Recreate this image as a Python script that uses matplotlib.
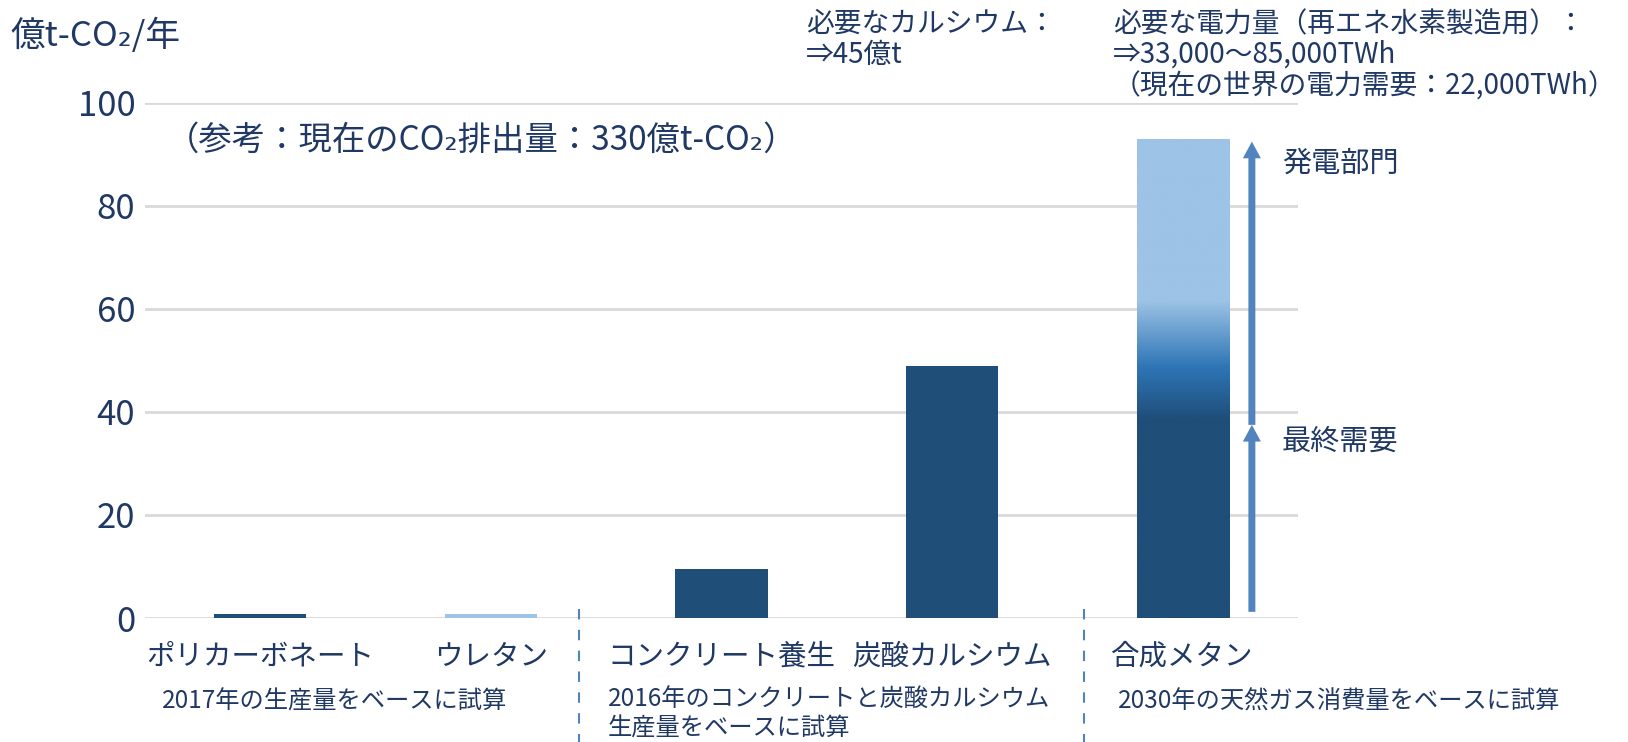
import numpy as np
import matplotlib.pyplot as plt
from matplotlib.colors import LinearSegmentedColormap
from matplotlib.transforms import blended_transform_factory

plt.rcParams['font.family'] = ['Noto Sans CJK JP', 'DejaVu Sans']

# data
categories = ['ポリカーボネート', 'ウレタン', 'コンクリート養生', '炭酸カルシウム', '合成メタン']
values = [0.8, 0.8, 9.5, 49.0, 93.0]
bar_colors = ['#1F4E79', '#9DC3E6', '#1F4E79', '#1F4E79', 'none']
final_demand = 37.5      # split of the methane bar (最終需要 / 発電部門)
methane_top = 92.5
separators = [1.38, 3.57]
notes = ['2017年の生産量をベースに試算',
         '2016年のコンクリートと炭酸カルシウム\n生産量をベースに試算',
         '2030年の天然ガス消費量をベースに試算']

navy = '#1F3864'
arrow_c = '#5183BF'

W, H = 1628, 742
fig = plt.figure(figsize=(W / 100, H / 100), dpi=100)
ax = fig.add_axes([145 / W, 1 - 618 / H, (1298 - 145) / W, (618 - 103) / H])

x = np.arange(len(categories))
bars = ax.bar(x, values, width=0.4, color=bar_colors, zorder=2)

# gradient fill for the methane bar
stops = [(0, '#1F4E79'), (38.4 / 93, '#1F4E79'), (48.7 / 93, '#2E75B6'),
         (61.7 / 93, '#9DC3E6'), (1, '#9DC3E6')]
cmap = LinearSegmentedColormap.from_list('grad', stops)
grad = np.linspace(0, 1, 512).reshape(-1, 1)
im = ax.imshow(grad, cmap=cmap, origin='lower', aspect='auto',
               extent=[x[4] - 0.2, x[4] + 0.2, 0, values[4]], zorder=2)
im.set_clip_path(bars[4])

ax.set_xlim(-0.5, 4.5)
ax.set_ylim(0, 100)
ax.set_yticks(range(0, 101, 20))
ax.grid(axis='y', color='#D9D9D9', lw=2)
ax.set_axisbelow(True)
for s in ax.spines.values():
    s.set_visible(False)
ax.tick_params(axis='y', length=0, pad=7, labelsize=25, labelcolor=navy)
ax.set_xticks(x)
ax.set_xticklabels(categories, fontsize=20.5, color=navy)
ax.tick_params(axis='x', length=0, pad=17)

# arrows
ax.annotate('', xy=(4.3, final_demand), xytext=(4.3, 1.2),
            arrowprops=dict(width=5, headwidth=13, headlength=12, shrink=0,
                            color=arrow_c, lw=0))
ax.annotate('', xy=(4.3, methane_top), xytext=(4.3, final_demand),
            arrowprops=dict(width=5, headwidth=13, headlength=12, shrink=0,
                            color=arrow_c, lw=0))
ax.text(4.43, 88.3, '発電部門', fontsize=21, color=navy, va='center')
ax.text(4.43, 34.2, '最終需要', fontsize=21, color=navy, va='center')

ax.text(-0.41, 92.8, '（参考：現在のCO₂排出量：330億t-CO₂）', fontsize=24,
        color=navy, va='center')

# dashed separators below the axis
trans = blended_transform_factory(ax.transData, ax.transAxes)
for sx in separators:
    ax.plot([sx, sx], [0.018, -0.26], transform=trans, clip_on=False,
            ls=(0, (5, 5)), color=arrow_c, lw=1.5)

# notes under the categories
fig.text(335 / W, 1 - 702 / H, notes[0], fontsize=17.5, color=navy,
         ha='center', va='center')
fig.text(608 / W, 1 - 686 / H, notes[1], fontsize=17.5, color=navy,
         ha='left', va='top', linespacing=1.2)
fig.text(1118 / W, 1 - 702 / H, notes[2], fontsize=17.5, color=navy,
         ha='left', va='center')

# header texts
fig.text(10 / W, 1 - 36 / H, '億t-CO₂/年', fontsize=25, color=navy, va='center')
fig.text(806 / W, 1 - 24 / H, '必要なカルシウム：', fontsize=20, color=navy, va='center')
fig.text(806 / W, 1 - 55 / H, '⇒45億t', fontsize=20, color=navy, va='center')
fig.text(1113 / W, 1 - 24 / H, '必要な電力量（再エネ水素製造用）：', fontsize=20,
         color=navy, va='center')
fig.text(1113 / W, 1 - 55 / H, '⇒33,000〜85,000TWh', fontsize=20, color=navy,
         va='center')
fig.text(1113 / W, 1 - 87 / H, '（現在の世界の電力需要：22,000TWh）', fontsize=20,
         color=navy, va='center')

plt.savefig('out.png')
